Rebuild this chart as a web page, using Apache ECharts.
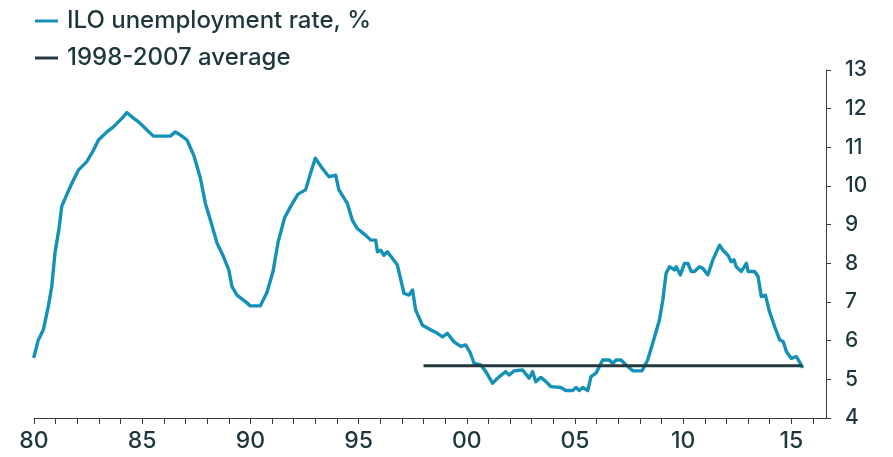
<!DOCTYPE html>
<html>
<head>
<meta charset="utf-8">
<script src="https://cdn.jsdelivr.net/npm/echarts@6/dist/echarts.min.js"></script>
<style>
  html, body { margin: 0; padding: 0; background: #fff; }
  #chart { width: 893px; height: 457px; }
</style>
</head>
<body>
<div id="chart"></div>
<script>
// UK ILO unemployment rate (%), decimal year vs rate
const years = [
  1980.00, 1980.20, 1980.43, 1980.66, 1980.82, 1980.97, 1981.17, 1981.28, 1981.51, 1981.75,
  1982.05, 1982.44, 1982.75, 1982.98, 1983.37, 1983.67, 1984.06, 1984.29, 1984.52, 1984.83,
  1985.22, 1985.52, 1986.30, 1986.53, 1986.76, 1987.07, 1987.38, 1987.69, 1987.92, 1988.15,
  1988.46, 1988.76, 1989.00, 1989.15, 1989.38, 1989.77, 1990.00, 1990.46, 1990.77, 1991.05,
  1991.28, 1991.58, 1991.85, 1992.20, 1992.55, 1992.78, 1993.00, 1993.32, 1993.63, 1993.94,
  1994.09, 1994.48, 1994.71, 1994.94, 1995.32, 1995.56, 1995.79, 1995.87, 1996.02, 1996.17,
  1996.33, 1996.56, 1996.79, 1997.10, 1997.33, 1997.49, 1997.64, 1997.95, 1998.33, 1998.64,
  1998.88, 1999.10, 1999.41, 1999.72, 1999.95, 2000.15, 2000.34, 2000.65, 2000.88, 2001.19,
  2001.50, 2001.80, 2001.96, 2002.19, 2002.58, 2002.88, 2003.04, 2003.19, 2003.42, 2003.66,
  2003.89, 2004.35, 2004.58, 2004.89, 2005.05, 2005.20, 2005.36, 2005.59, 2005.74, 2005.97,
  2006.13, 2006.28, 2006.59, 2006.74, 2006.90, 2007.13, 2007.36, 2007.67, 2008.10, 2008.36,
  2008.67, 2008.90, 2009.06, 2009.21, 2009.37, 2009.60, 2009.68, 2009.87, 2010.06, 2010.22,
  2010.37, 2010.52, 2010.75, 2010.91, 2011.14, 2011.37, 2011.68, 2011.84, 2012.07, 2012.22,
  2012.35, 2012.45, 2012.69, 2012.92, 2013.00, 2013.30, 2013.46, 2013.61, 2013.80, 2013.99,
  2014.23, 2014.46, 2014.62, 2014.77, 2015.00, 2015.23, 2015.50
];
const rate = [
  5.59, 6.02, 6.28, 6.88, 7.40, 8.27, 8.95, 9.47, 9.77, 10.07,
  10.41, 10.63, 10.93, 11.19, 11.40, 11.53, 11.75, 11.90, 11.79, 11.66,
  11.45, 11.29, 11.29, 11.40, 11.32, 11.19, 10.80, 10.20, 9.55, 9.12,
  8.52, 8.17, 7.83, 7.40, 7.18, 7.01, 6.90, 6.90, 7.25, 7.80,
  8.55, 9.18, 9.46, 9.79, 9.90, 10.33, 10.72, 10.46, 10.24, 10.28,
  9.90, 9.55, 9.12, 8.90, 8.73, 8.60, 8.60, 8.30, 8.34, 8.21,
  8.30, 8.13, 7.96, 7.22, 7.18, 7.31, 6.79, 6.40, 6.28, 6.19,
  6.10, 6.19, 5.97, 5.85, 5.89, 5.70, 5.41, 5.37, 5.20, 4.90,
  5.07, 5.20, 5.11, 5.22, 5.24, 5.03, 5.20, 4.94, 5.05, 4.94,
  4.81, 4.79, 4.71, 4.71, 4.79, 4.71, 4.79, 4.71, 5.07, 5.16,
  5.33, 5.50, 5.50, 5.41, 5.50, 5.50, 5.37, 5.22, 5.22, 5.50,
  6.08, 6.53, 7.05, 7.74, 7.91, 7.83, 7.91, 7.70, 8.00, 8.00,
  7.79, 7.79, 7.91, 7.87, 7.70, 8.09, 8.47, 8.34, 8.21, 8.04,
  8.09, 7.91, 7.79, 8.00, 7.79, 7.79, 7.66, 7.14, 7.18, 6.75,
  6.36, 6.02, 5.98, 5.72, 5.54, 5.59, 5.33
];
// 1998-2007 average, drawn from 1998 to the latest observation
const avgSpan = [1998, 2015.5];
const avgValue = 5.35;

const seriesNames = ['ILO unemployment rate, %', '1998-2007 average'];
const yTicks = { min: 4, max: 13, step: 1 };

const BLUE = '#1590b6';
const DARK = '#233a3e';
const TEXT = '#1d373c';
const FONT = 'Inter, "Noto Sans", "Liberation Sans", sans-serif';

const chart = echarts.init(document.getElementById('chart'), null, { renderer: 'canvas' });

chart.setOption({
  animation: false,
  backgroundColor: '#ffffff',
  legend: {
    orient: 'vertical',
    left: 30,
    top: 3,
    itemWidth: 23,
    itemHeight: 3,
    itemGap: 11,
    icon: 'rect',
    textStyle: {
      color: TEXT,
      fontFamily: FONT,
      fontSize: 24,
      fontWeight: 500,
      lineHeight: 26,
      padding: [0, 0, 0, 4]
    },
    data: seriesNames
  },
  grid: { left: 34, right: 67, top: 70, bottom: 39, containLabel: false },
  xAxis: {
    type: 'value',
    min: 1980,
    max: 2016.6,
    interval: 1,
    splitLine: { show: false },
    axisLine: { show: true, lineStyle: { color: '#3a3a3a', width: 1 } },
    axisTick: { show: true, length: 6, lineStyle: { color: '#3a3a3a' } },
    axisLabel: {
      margin: 12,
      color: TEXT,
      fontFamily: FONT,
      fontSize: 23,
      fontWeight: 500,
      showMaxLabel: false,
      formatter: function (v) {
        return (Math.abs(v % 5) < 1e-9) ? String(v).slice(2) : '';
      }
    }
  },
  yAxis: {
    type: 'value',
    position: 'right',
    min: yTicks.min,
    max: yTicks.max,
    interval: yTicks.step,
    splitLine: { show: false },
    axisLine: { show: true, lineStyle: { color: '#3a3a3a', width: 1 } },
    axisTick: { show: true, length: 5, lineStyle: { color: '#3a3a3a' } },
    axisLabel: {
      margin: 19,
      color: TEXT,
      fontFamily: FONT,
      fontSize: 21,
      fontWeight: 500
    }
  },
  series: [
    {
      name: seriesNames[0],
      type: 'line',
      data: years.map((y, i) => [y, rate[i]]),
      showSymbol: false,
      symbol: 'none',
      lineStyle: { color: BLUE, width: 3.4, join: 'round', cap: 'round' },
      itemStyle: { color: BLUE },
      z: 2
    },
    {
      name: seriesNames[1],
      type: 'line',
      data: avgSpan.map(y => [y, avgValue]),
      showSymbol: false,
      symbol: 'none',
      lineStyle: { color: DARK, width: 3 },
      itemStyle: { color: DARK },
      z: 3
    }
  ]
});
</script>
</body>
</html>
